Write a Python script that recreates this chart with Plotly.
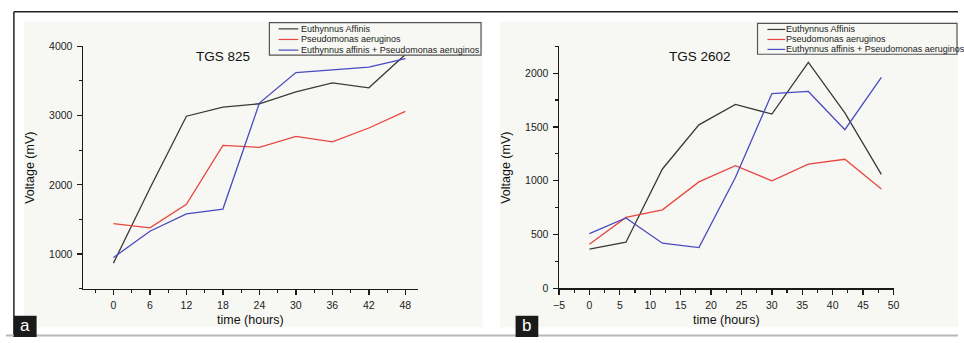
import plotly.graph_objects as go

W, H = 964, 343

hours = [0, 6, 12, 18, 24, 30, 36, 42, 48]
series_names = ["Euthynnus Affinis", "Pseudomonas aeruginos",
                "Euthynnus affinis + Pseudomonas aeruginos"]
series_colors = ["#3a3a3a", "#e8473f", "#4a4ac0"]

# Panel a: TGS 825
tgs825_euthynnus = [870, 1950, 2990, 3120, 3170, 3340, 3470, 3400, 3880]
tgs825_pseudomonas = [1440, 1380, 1720, 2570, 2540, 2700, 2620, 2820, 3060]
tgs825_mixed = [950, 1330, 1580, 1650, 3180, 3620, 3660, 3700, 3820]

# Panel b: TGS 2602
tgs2602_euthynnus = [365, 430, 1110, 1520, 1710, 1620, 2100, 1630, 1060]
tgs2602_pseudomonas = [410, 660, 730, 990, 1140, 1000, 1155, 1200, 925]
tgs2602_mixed = [510, 655, 420, 380, 1030, 1810, 1830, 1475, 1960]

panel_titles = ["TGS 825", "TGS 2602"]
panel_labels = ["a", "b"]
x_title = "time (hours)"
y_title = "Voltage (mV)"


def px(x):
    return x / W


def py(y):
    return 1 - y / H


FONT = "Liberation Sans, Arial, sans-serif"
AX = "#1a1a1a"

fig = go.Figure()

panel_a = [tgs825_euthynnus, tgs825_pseudomonas, tgs825_mixed]
panel_b = [tgs2602_euthynnus, tgs2602_pseudomonas, tgs2602_mixed]
for vals, name, col in zip(panel_a, series_names, series_colors):
    fig.add_trace(go.Scatter(x=hours, y=vals, mode="lines", name=name,
                             line=dict(color=col, width=1.3),
                             xaxis="x", yaxis="y", showlegend=False))
for vals, name, col in zip(panel_b, series_names, series_colors):
    fig.add_trace(go.Scatter(x=hours, y=vals, mode="lines", name=name,
                             line=dict(color=col, width=1.3),
                             xaxis="x2", yaxis="y2", showlegend=False))

common_axis = dict(showline=True, linecolor=AX, linewidth=1.5, mirror=False,
                   showgrid=False, zeroline=False, ticks="outside",
                   ticklen=5, tickwidth=1.3, tickcolor=AX,
                   tickfont=dict(family=FONT, size=10.5, color="#222"),
                   fixedrange=True)

ya_dom = [py(293), py(41.7)]
yb_dom = [py(292.7), py(41.7)]

minor_style = dict(ticklen=3, tickwidth=1.2, tickcolor=AX, ticks="outside",
                   showgrid=False, tick0=0)

fig.update_layout(
    width=W, height=H,
    margin=dict(l=0, r=0, t=0, b=0),
    paper_bgcolor="white", plot_bgcolor="rgba(0,0,0,0)",
    showlegend=False,
    xaxis=dict(common_axis, domain=[px(78), px(416.7)], range=[-5, 50],
               tick0=0, dtick=6, anchor="y", ticklabelstandoff=1,
               minor=dict(minor_style, dtick=3)),
    yaxis=dict(common_axis, domain=ya_dom, range=[500, 4000],
               tick0=0, dtick=1000, anchor="x", ticklabelstandoff=2,
               minor=dict(minor_style, dtick=500)),
    xaxis2=dict(common_axis, domain=[px(560), px(898.7)], range=[-5, 50],
                tick0=0, dtick=5, anchor="y2", ticklabelstandoff=1,
                minor=dict(minor_style, dtick=2.5)),
    yaxis2=dict(common_axis, domain=yb_dom, range=[0, 2250],
                tick0=0, dtick=500, anchor="x2", ticklabelstandoff=2,
                minor=dict(minor_style, dtick=250)),
)

shapes = []
# panel backgrounds
shapes.append(dict(type="rect", xref="paper", yref="paper", layer="below",
                   x0=px(18), x1=px(483), y0=py(333), y1=py(16),
                   fillcolor="#f7f8f4", line=dict(width=0)))
shapes.append(dict(type="rect", xref="paper", yref="paper", layer="below",
                   x0=px(500), x1=px(964), y0=py(333), y1=py(16),
                   fillcolor="#f7f8f4", line=dict(width=0)))
# frame lines
shapes.append(dict(type="line", xref="paper", yref="paper",
                   x0=px(8), x1=1, y0=py(6), y1=py(6),
                   line=dict(color="#222", width=1.5)))
shapes.append(dict(type="line", xref="paper", yref="paper",
                   x0=px(8), x1=px(8), y0=py(6), y1=0,
                   line=dict(color="#222", width=1.5)))
shapes.append(dict(type="line", xref="paper", yref="paper",
                   x0=0, x1=1, y0=py(341.5), y1=py(341.5),
                   line=dict(color="#b8b8b8", width=2)))
# panel label boxes
for x0, x1 in [(8, 31), (516, 539)]:
    shapes.append(dict(type="rect", xref="paper", yref="paper",
                       x0=px(x0), x1=px(x1), y0=0, y1=py(321),
                       fillcolor="#1a1a1a", line=dict(width=0)))

annotations = []
# legends (drawn as boxes with line samples)
legend_boxes = [
    dict(x0=266.7, x1=481, y0=17.3, y1=51, lx0=276, lx1=296, tx=297,
         rows=[23.7, 34.7, 45.7]),
    dict(x0=761, x1=963, y0=18, y1=50, lx0=771, lx1=789, tx=788,
         rows=[24.3, 34.7, 45]),
]
for lb in legend_boxes:
    shapes.append(dict(type="rect", xref="paper", yref="paper",
                       x0=px(lb["x0"]), x1=px(lb["x1"]),
                       y0=py(lb["y1"]), y1=py(lb["y0"]),
                       fillcolor="#f7f8f4", line=dict(color="#555", width=1.2)))
    for name, col, ry in zip(series_names, series_colors, lb["rows"]):
        shapes.append(dict(type="line", xref="paper", yref="paper",
                           x0=px(lb["lx0"]), x1=px(lb["lx1"]),
                           y0=py(ry), y1=py(ry),
                           line=dict(color=col, width=1.2)))
        annotations.append(dict(text=name, xref="paper", yref="paper",
                                x=px(lb["tx"]), y=py(ry), xanchor="left",
                                yanchor="middle", showarrow=False,
                                font=dict(family=FONT, size=9, color="#222")))

# titles
for t, cx in zip(panel_titles, [219.5, 703]):
    annotations.append(dict(text=t, xref="paper", yref="paper", x=px(cx),
                            y=py(52), xanchor="center", yanchor="middle",
                            showarrow=False,
                            font=dict(family=FONT, size=13.5, color="#111")))
# axis titles
for cx in [247.3, 729.3]:
    annotations.append(dict(text=x_title, xref="paper", yref="paper",
                            x=px(cx), y=py(325), xanchor="center",
                            yanchor="middle", showarrow=False,
                            font=dict(family=FONT, size=12.5, color="#111")))
for cx in [24, 506]:
    annotations.append(dict(text=y_title, xref="paper", yref="paper",
                            x=px(cx), y=py(168), xanchor="center",
                            yanchor="middle", showarrow=False, textangle=-90,
                            font=dict(family=FONT, size=12.5, color="#111")))
# panel letters
for lab, cx in zip(panel_labels, [19.5, 527.5]):
    annotations.append(dict(text=lab, xref="paper", yref="paper",
                            x=px(cx), y=py(331), xanchor="center",
                            yanchor="middle", showarrow=False,
                            font=dict(family=FONT, size=17, color="white")))

fig.update_layout(shapes=shapes, annotations=annotations)
fig.write_html("out.html", config={"displayModeBar": False, "staticPlot": True})

# remove the default page margin so the figure sits at the window's origin
with open("out.html", "r", encoding="utf-8") as f:
    html = f.read()
html = html.replace("<body>", '<body style="margin:0;padding:0;overflow:hidden">', 1)
with open("out.html", "w", encoding="utf-8") as f:
    f.write(html)
